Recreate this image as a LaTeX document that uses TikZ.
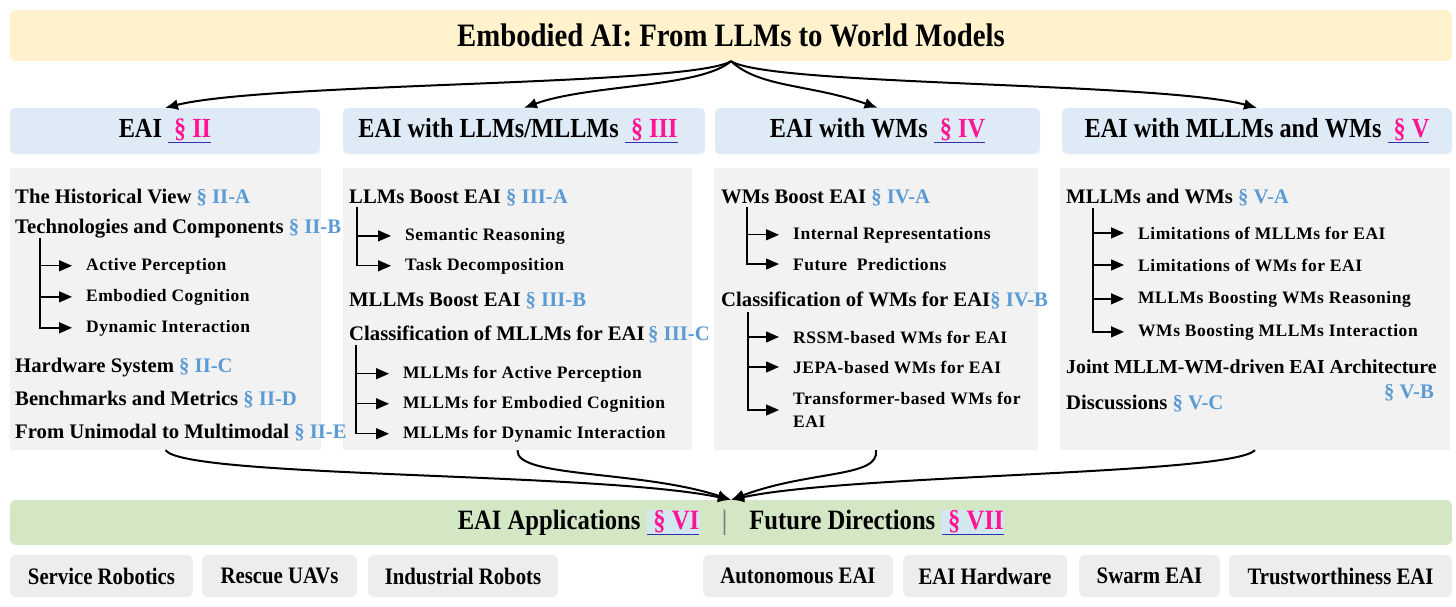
\documentclass[tikz,border=0pt]{standalone}
\usepackage{fontspec}
\setmainfont{Liberation Serif}
\newfontfamily\condfont{Liberation Serif}[FakeStretch=0.88]
\newfontfamily\subfont{Liberation Serif}[LetterSpace=3]
\usetikzlibrary{arrows.meta}
\definecolor{bannery}{HTML}{FFF2CC}
\definecolor{headb}{HTML}{DEEBF7}
\definecolor{bodyg}{HTML}{F2F2F2}
\definecolor{greenb}{HTML}{D3E7C5}
\definecolor{boxg}{HTML}{EDEDED}
\definecolor{refblue}{HTML}{5B9BD5}
\definecolor{secmag}{HTML}{FF1493}
\definecolor{ulblue}{HTML}{2F2FB0}
\definecolor{hlblue}{HTML}{D3E7EE}
\newcommand{\rf}[1]{\textcolor{refblue}{#1}}
\newcommand{\secu}[1]{{\color{ulblue}\underline{\color{secmag}\ #1}}}
\newcommand{\sechl}[1]{{\setlength{\fboxsep}{0.6pt}\colorbox{hlblue}{\color{ulblue}\underline{\color{secmag}\ #1}}}}
\tikzset{
  titlefont/.style={font=\condfont\bfseries\fontsize{32.7}{36}\selectfont},
  headbox/.style={fill=headb, rounded corners=5pt, inner sep=0pt, minimum height=46pt, font=\condfont\bfseries\fontsize{27.6}{32}\selectfont},
  bodybox/.style={fill=bodyg, inner sep=0pt, minimum height=282pt},
  greenbox/.style={fill=greenb, rounded corners=6pt, inner sep=0pt, minimum height=45pt, minimum width=1442pt, font=\condfont\bfseries\fontsize{28}{32}\selectfont},
  appbox/.style={fill=boxg, rounded corners=6pt, inner sep=0pt, minimum height=42pt, font=\condfont\bfseries\fontsize{23.6}{26}\selectfont},
  mainitem/.style={anchor=base west, inner sep=0pt, font=\bfseries\fontsize{20.7}{24}\selectfont},
  subitem/.style={anchor=base west, inner sep=0pt, font=\subfont\bfseries\fontsize{17.5}{23}\selectfont},
  bigarrow/.style={line width=2pt, -{Latex[length=13pt,width=11pt]}},
  treearrow/.style={line width=1.4pt, -{Triangle[length=13pt,width=11pt]}, shorten >=14pt},
}
\begin{document}
\begin{tikzpicture}[x=1pt,y=-1pt]
\useasboundingbox (0,0) rectangle (1456,606);

% top banner
\node[fill=bannery, rounded corners=6pt, inner sep=0pt, minimum width=1442pt, minimum height=51pt, titlefont] (top) at (731,35.5) {Embodied AI: From LLMs to World Models};

% headers
\node[headbox, minimum width=310pt] (h1) at (165,131) {EAI \secu{§ II}};
\node[headbox, minimum width=362pt] (h2) at (524,131) {\hspace*{-12pt}EAI with LLMs/MLLMs \secu{§ III}};
\node[headbox, minimum width=325pt] (h3) at (877.5,131) {EAI with WMs \secu{§ IV}};
\node[headbox, minimum width=390pt] (h4) at (1257,131) {EAI with MLLMs and WMs \secu{§ V}};

% body boxes
\node[bodybox, minimum width=311pt] (b1) at (165.5,309) {};
\node[bodybox, minimum width=349pt] (b2) at (517.5,309) {};
\node[bodybox, minimum width=324pt] (b3) at (876,309) {};
\node[bodybox, minimum width=390pt] (b4) at (1255,309) {};

% column 1
\node[mainitem] (c1a) at (15,203) {The Historical View \rf{§ II-A}};
\node[mainitem] (c1b) at (15,233) {Technologies and Components \rf{§ II-B}};
\node[subitem] (c1b1) at (86,270) {Active Perception};
\node[subitem] (c1b2) at (86,301) {Embodied Cognition};
\node[subitem] (c1b3) at (86,332) {Dynamic Interaction};
\node[mainitem] (c1c) at (15,372) {Hardware System \rf{§ II-C}};
\node[mainitem] (c1d) at (15,405) {Benchmarks and Metrics \rf{§ II-D}};
\node[mainitem] (c1e) at (15,438) {From Unimodal to Multimodal \rf{§ II-E}};
\coordinate (t1) at (40,238);
\draw[treearrow] (t1) |- (c1b1.west);
\draw[treearrow] (t1) |- (c1b2.west);
\draw[treearrow] (t1) |- (c1b3.west);

% column 2
\node[mainitem] (c2a) at (349,203) {LLMs Boost EAI \rf{§ III-A}};
\node[subitem] (c2a1) at (405,240) {Semantic Reasoning};
\node[subitem] (c2a2) at (405,270) {Task Decomposition};
\node[mainitem] (c2b) at (349,306) {MLLMs Boost EAI \rf{§ III-B}};
\node[mainitem] (c2c) at (349,340) {Classification of MLLMs for EAI\,\rf{§ III-C}};
\node[subitem] (c2c1) at (403,378) {MLLMs for Active Perception};
\node[subitem] (c2c2) at (403,408) {MLLMs for Embodied Cognition};
\node[subitem] (c2c3) at (403,438) {MLLMs for Dynamic Interaction};
\coordinate (t2) at (357,207);
\coordinate (t3) at (356,345);
\draw[treearrow] (t2) |- (c2a1.west);
\draw[treearrow] (t2) |- (c2a2.west);
\draw[treearrow] (t3) |- (c2c1.west);
\draw[treearrow] (t3) |- (c2c2.west);
\draw[treearrow] (t3) |- (c2c3.west);

% column 3
\node[mainitem] (c3a) at (721,203) {WMs Boost EAI \rf{§ IV-A}};
\node[subitem] (c3a1) at (793,239) {Internal Representations};
\node[subitem] (c3a2) at (793,270) {Future\ \ Predictions};
\node[mainitem] (c3b) at (721,306) {Classification of WMs for EAI\rf{§ IV-B}};
\node[subitem] (c3b1) at (793,343) {RSSM-based WMs for EAI};
\node[subitem] (c3b2) at (793,373) {JEPA-based WMs for EAI};
\node[subitem, anchor=west, align=left] (c3b3) at (793,410) {Transformer-based WMs for\\EAI};
\coordinate (t4) at (747,207);
\coordinate (t5) at (748,312);
\draw[treearrow] (t4) |- (c3a1.west);
\draw[treearrow] (t4) |- (c3a2.west);
\draw[treearrow] (t5) |- (c3b1.west);
\draw[treearrow] (t5) |- (c3b2.west);
\draw[treearrow] (t5) |- (c3b3.west);

% column 4
\node[mainitem] (c4a) at (1066,203) {MLLMs and WMs \rf{§ V-A}};
\node[subitem] (c4a1) at (1138,239) {Limitations of MLLMs for EAI};
\node[subitem] (c4a2) at (1138,271) {Limitations of WMs for EAI};
\node[subitem] (c4a3) at (1138,303) {MLLMs Boosting WMs Reasoning};
\node[subitem] (c4a4) at (1138,336) {WMs Boosting MLLMs Interaction};
\node[mainitem, font=\bfseries\fontsize{19.8}{24}\selectfont] (c4b) at (1066,373) {Joint MLLM-WM-driven EAI Architecture};
\node[mainitem, anchor=base east] (c4bref) at (1434,398) {\rf{§ V-B}};
\node[mainitem] (c4c) at (1066,409) {Discussions \rf{§ V-C}};
\coordinate (t6) at (1093,208);
\draw[treearrow] (t6) |- (c4a1.west);
\draw[treearrow] (t6) |- (c4a2.west);
\draw[treearrow] (t6) |- (c4a3.west);
\draw[treearrow] (t6) |- (c4a4.west);

% green banner
\node[greenbox] (g) at (731,522.5) {EAI Applications \sechl{§ VI}\hspace{22pt}\textcolor{gray}{|}\hspace{22pt}Future Directions \sechl{§ VII}};

% application boxes
\node[appbox, minimum width=183pt] (p1) at (101.5,576) {Service Robotics};
\node[appbox, minimum width=155pt] (p2) at (279.5,576) {Rescue UAVs};
\node[appbox, minimum width=190pt] (p3) at (463,576) {Industrial Robots};
\node[appbox, minimum width=190pt] (p4) at (798,576) {Autonomous EAI};
\node[appbox, minimum width=164pt] (p5) at (985,576) {EAI Hardware};
\node[appbox, minimum width=141pt] (p6) at (1149.5,576) {Swarm EAI};
\node[appbox, minimum width=223pt] (p7) at (1340.5,576) {Trustworthiness EAI};

% top arrows
\draw[bigarrow] (top.south) .. controls (690,86) and (270,82) .. (h1.north);
\draw[bigarrow] (top.south) .. controls (700,88) and (590,84) .. (h2.north);
\draw[bigarrow] (top.south) .. controls (760,88) and (810,84) .. (h3.north);
\draw[bigarrow] (top.south) .. controls (770,86) and (1160,82) .. (h4.north);

% bottom arrows
\draw[bigarrow] (b1.south) .. controls (185,478) and (600,472) .. (g.north);
\draw[bigarrow] (b2.south) .. controls (515,478) and (640,470) .. (g.north);
\draw[bigarrow] (b3.south) .. controls (880,478) and (810,470) .. (g.north);
\draw[bigarrow] (b4.south) .. controls (1230,475) and (850,474) .. (g.north);
\end{tikzpicture}
\end{document}
